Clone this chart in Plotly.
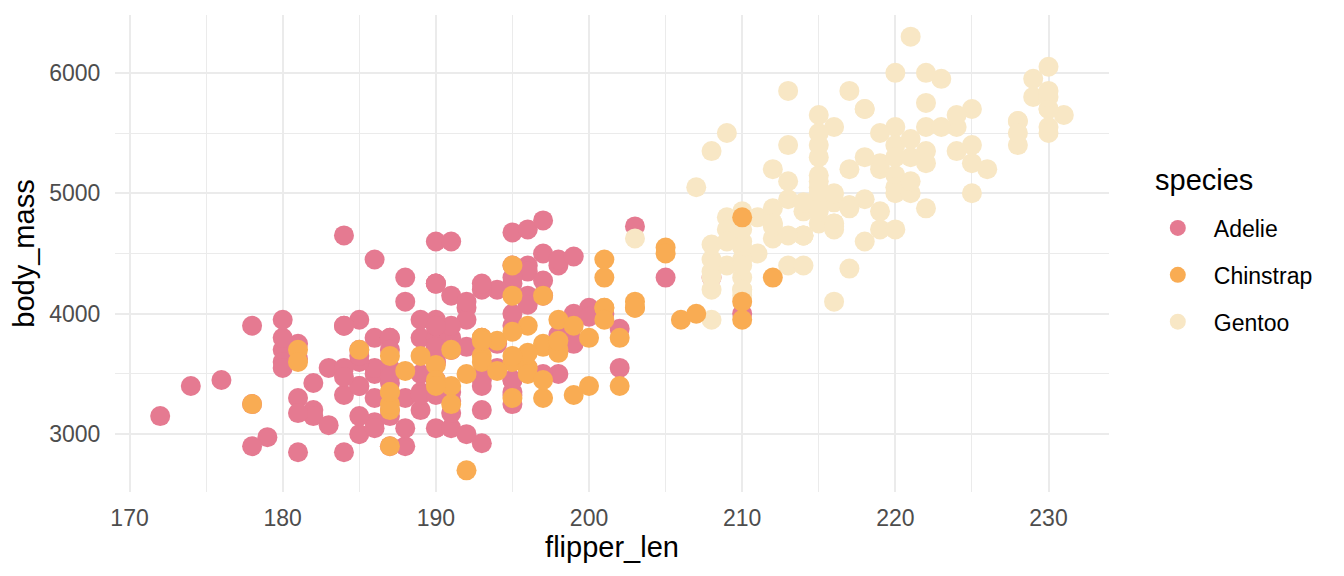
import plotly.graph_objects as go

# Adelie
adelie_flipper = [181, 186, 195, 193, 190, 181, 195, 193, 190, 186, 180, 182, 191, 198, 185, 195, 197, 184, 194,
                  174, 180, 189, 185, 180, 187, 183, 187, 172, 180,
                  178, 178, 188, 184, 195, 196, 190, 180, 181, 184, 182, 195, 186, 196, 185, 190, 182, 179, 190, 191,
                  186, 188, 190, 200, 187, 191, 186, 193, 181, 194, 185, 195, 185, 192, 184, 192, 195, 188,
                  190, 198, 190, 190, 196, 197, 190, 195, 191, 184, 187, 195, 189, 196, 187, 193,
                  191, 194, 190, 189, 189, 190, 202, 205, 185, 186, 187, 208, 190, 196, 178, 192,
                  192, 203, 183, 190, 193, 184, 199, 190, 181, 197, 198, 191, 193, 197, 191, 196,
                  188, 199, 189, 189, 187, 198, 176, 202, 186, 199, 191, 195, 191, 210, 190, 197,
                  193, 199, 187, 190, 191, 200, 185, 193, 193, 187, 188, 190, 192, 185, 190, 184, 195, 193, 187, 201]
adelie_mass = [3750, 3800, 3250, 3450, 3650, 3625, 4675, 3475, 4250, 3300, 3700, 3200, 3800, 4400, 3700, 3450, 4500, 3325, 4200,
               3400, 3600, 3800, 3950, 3800, 3800, 3550, 3200, 3150, 3950,
               3250, 3900, 3300, 3900, 3325, 4150, 3950, 3550, 3300, 4650, 3150, 3900, 3100, 4400, 3000, 4600, 3425, 2975, 3450, 4150,
               3500, 4300, 3450, 4050, 2900, 3700, 3550, 3800, 2850, 3750, 3150, 4400, 3600, 4050, 2850, 3950, 3350, 4100,
               3050, 4450, 3600, 3900, 3550, 4150, 3700, 4250, 3700, 3900, 3550, 4000, 3200, 4700, 3800, 4200,
               3350, 3550, 3800, 3500, 3950, 3600, 3550, 4300, 3400, 4450, 3300, 4300, 3700, 4350, 2900, 4100,
               3725, 4725, 3075, 4250, 2925, 3550, 3750, 3900, 3175, 4775, 3825, 4600, 3200, 4275, 3900, 4075,
               2900, 3775, 3350, 3325, 3150, 3500, 3450, 3875, 3050, 4000, 3275, 4300, 3050, 4000, 3325, 3500,
               3500, 4475, 3425, 3900, 3175, 3975, 3400, 4250, 3400, 3475, 3050, 3725, 3000, 3650, 4250, 3475, 3450, 3750, 3700, 4000]

# Chinstrap
chinstrap_flipper = [192, 196, 193, 188, 197, 198, 178, 197, 195, 198, 193, 194, 185, 201, 190, 201, 197, 181, 190, 195,
                     181, 191, 187, 193, 195, 197, 200, 200, 191, 205, 187, 201, 187, 203, 195, 199, 195, 210, 192, 205,
                     210, 187, 196, 196, 196, 201, 190, 212, 187, 198, 199, 201, 193, 203, 187, 197, 191, 203, 202, 194,
                     206, 189, 195, 207, 202, 193, 210, 198]
chinstrap_mass = [3500, 3900, 3650, 3525, 3725, 3950, 3250, 3750, 4150, 3700, 3800, 3775, 3700, 4050, 3575, 4050, 3300, 3700, 3450, 4400,
                  3600, 3400, 2900, 3800, 3300, 4150, 3400, 3800, 3700, 4550, 3200, 4300, 3350, 4100, 3600, 3900, 3850, 4800, 2700, 4500,
                  3950, 3650, 3550, 3500, 3675, 4450, 3400, 4300, 3250, 3675, 3325, 3950, 3600, 4050, 3350, 3450, 3250, 4050, 3800, 3525,
                  3950, 3650, 3650, 4000, 3400, 3775, 4100, 3775]

# Gentoo
gentoo_flipper = [211, 230, 210, 218, 215, 210, 211, 219, 209, 215, 214, 216, 214, 213, 210, 217, 210, 221, 209, 222,
                  218, 215, 213, 215, 215, 215, 216, 215, 210, 220, 222, 209, 207, 230, 220, 220, 213, 219, 208, 208,
                  208, 225, 210, 216, 222, 217, 210, 225, 213, 215, 210, 220, 210, 225, 217, 220, 208, 220, 208, 224,
                  208, 221, 214, 231, 219, 230, 214, 229, 220, 223, 216, 221, 221, 217, 216, 230, 209, 220, 215, 223,
                  212, 221, 212, 224, 212, 228, 218, 218, 212, 230, 218, 228, 212, 224, 214, 226, 216, 222, 203, 225,
                  219, 228, 215, 228, 216, 215, 210, 219, 208, 209, 216, 229, 213, 230, 217, 230, 217, 222, 214,
                  215, 222, 212, 213]
gentoo_mass = [4500, 5700, 4450, 5700, 5400, 4550, 4800, 5200, 4400, 5150, 4650, 5550, 4650, 5850, 4200, 5850, 4150, 6300, 4800, 5350,
               5700, 5000, 4400, 5050, 5000, 5100, 4100, 5650, 4600, 5550, 5250, 4700, 5050, 6050, 5150, 5400, 4950, 5250, 4350, 5350,
               3950, 5700, 4300, 4750, 5550, 4900, 4200, 5400, 5100, 5300, 4850, 5300, 4400, 5000, 4900, 5050, 4300, 5000, 4450, 5550,
               4200, 5300, 4400, 5650, 4700, 5700, 4650, 5800, 4700, 5550, 4750, 5000, 5100, 5200, 4700, 5800, 4600, 6000, 4750, 5950,
               4625, 5450, 4725, 5350, 4750, 5600, 4600, 5300, 4875, 5550, 4950, 5400, 4750, 5650, 4850, 5200, 4925, 4875, 4625, 5250,
               4850, 5600, 4975, 5500, 4725, 5500, 4700, 5500, 4575, 5500, 5000, 5950, 4650, 5500, 4375, 5850, 4875, 6000, 4925,
               4850, 5750, 5200, 5400]

species = ["Adelie", "Chinstrap", "Gentoo"]
colors = {"Adelie": "#E57A91", "Chinstrap": "#F9AC53", "Gentoo": "#F8E7C5"}

x_ticks = [170, 180, 190, 200, 210, 220, 230]
y_ticks = [3000, 4000, 5000, 6000]

data = {
    "Adelie": (adelie_flipper, adelie_mass),
    "Gentoo": (gentoo_flipper, gentoo_mass),
    "Chinstrap": (chinstrap_flipper, chinstrap_mass),
}
rank = {s: i for i, s in enumerate(species)}

fig = go.Figure()
for sp in ["Adelie", "Gentoo", "Chinstrap"]:
    fx, fy = data[sp]
    fig.add_trace(go.Scatter(
        x=fx, y=fy, mode="markers", name=sp,
        legendgroup=sp, legendrank=rank[sp] + 1,
        marker=dict(size=20, color=colors[sp], line=dict(width=0)),
    ))

FONT = "Liberation Sans, Arial, Helvetica, sans-serif"
fig.update_layout(
    width=1344, height=576,
    paper_bgcolor="white", plot_bgcolor="white",
    margin=dict(l=115, r=235, t=15, b=84),
    font=dict(family=FONT, color="black"),
    showlegend=True,
    legend=dict(
        font=dict(size=23, color="black"),
        x=1.033, xanchor="left", y=0.455, yanchor="middle",
        traceorder="grouped", tracegroupgap=14,
        itemwidth=62,
        bgcolor="rgba(0,0,0,0)",
    ),
    annotations=[dict(
        text="species", xref="paper", yref="paper",
        x=(1153 - 115) / 994, y=1 - (180 - 15) / 477,
        xanchor="left", yanchor="middle", showarrow=False,
        font=dict(size=29, color="black"),
    )],
    xaxis=dict(
        range=[169.05, 233.95],
        tickvals=x_ticks, ticktext=[str(v) for v in x_ticks],
        tickfont=dict(size=23, color="#4D4D4D"),
        showgrid=True, gridcolor="#EBEBEB", gridwidth=2,
        minor=dict(tickvals=[175, 185, 195, 205, 215, 225], showgrid=True, gridcolor="#EBEBEB", gridwidth=1),
        zeroline=False, showline=False,
        ticks="outside", ticklen=5, tickcolor="rgba(0,0,0,0)",
        title=dict(text="flipper_len", font=dict(size=29, color="black"), standoff=6),
    ),
    yaxis=dict(
        range=[2520, 6480],
        tickvals=y_ticks, ticktext=[str(v) for v in y_ticks],
        tickfont=dict(size=23, color="#4D4D4D"),
        showgrid=True, gridcolor="#EBEBEB", gridwidth=2,
        minor=dict(tickvals=[3500, 4500, 5500], showgrid=True, gridcolor="#EBEBEB", gridwidth=1),
        zeroline=False, showline=False,
        ticks="outside", ticklen=9, tickcolor="rgba(0,0,0,0)",
        title=dict(text="body_mass", font=dict(size=29, color="black"), standoff=6),
    ),
)

fig.write_html("out.html", config={"displayModeBar": False},
               post_script="document.body.style.margin='0';")
